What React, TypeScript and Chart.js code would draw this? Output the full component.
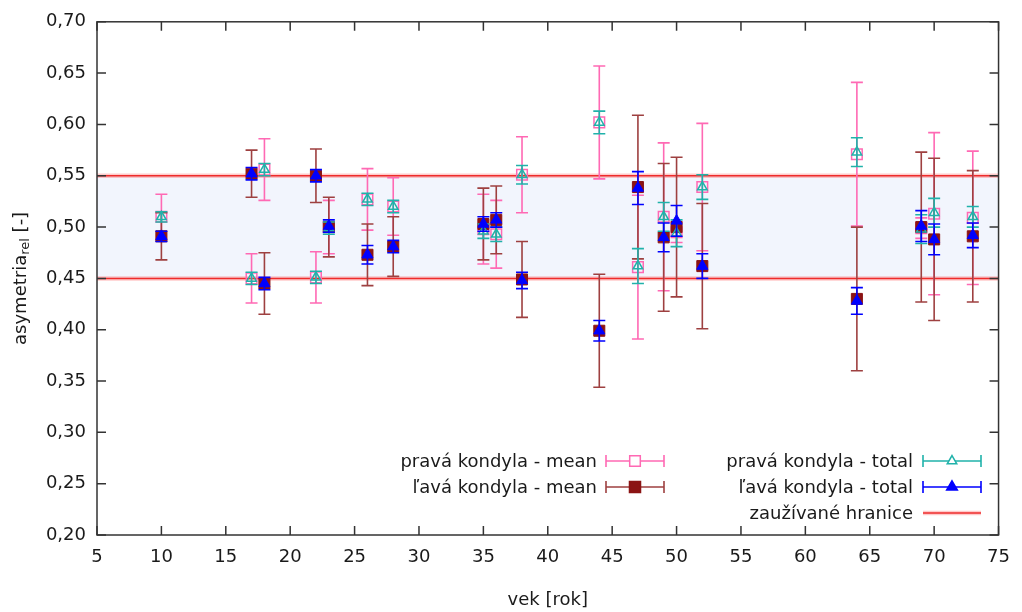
import React, { useEffect, useRef } from 'react';
import { Chart, registerables } from 'chart.js';
Chart.register(...registerables);

const ages = [10, 17, 18, 22, 23, 26, 28, 35, 36, 38, 44, 47, 49, 50, 52, 64, 69, 70, 73];
const pravaMean = [0.510, 0.450, 0.556, 0.451, 0.500, 0.527, 0.520, 0.498, 0.493, 0.551, 0.602, 0.461, 0.510, 0.495, 0.539, 0.571, 0.499, 0.513, 0.509];
const pravaMeanErr = [0.022, 0.024, 0.030, 0.025, 0.026, 0.030, 0.028, 0.034, 0.033, 0.037, 0.055, 0.070, 0.072, 0.010, 0.062, 0.070, 0.010, 0.079, 0.065];
const lavaMean = [0.491, 0.552, 0.445, 0.550, 0.500, 0.473, 0.481, 0.503, 0.507, 0.449, 0.399, 0.539, 0.490, 0.500, 0.462, 0.430, 0.500, 0.488, 0.491];
const lavaMeanErr = [0.023, 0.023, 0.030, 0.026, 0.029, 0.030, 0.029, 0.035, 0.033, 0.037, 0.055, 0.070, 0.072, 0.068, 0.061, 0.070, 0.073, 0.079, 0.064];
const pravaTotal = [0.510, 0.450, 0.556, 0.451, 0.499, 0.527, 0.520, 0.496, 0.493, 0.551, 0.602, 0.462, 0.510, 0.494, 0.539, 0.573, 0.498, 0.514, 0.510];
const pravaTotalErr = [0.005, 0.006, 0.006, 0.006, 0.006, 0.006, 0.006, 0.007, 0.007, 0.009, 0.011, 0.017, 0.014, 0.013, 0.012, 0.014, 0.014, 0.014, 0.010];
const lavaTotal = [0.491, 0.552, 0.445, 0.550, 0.501, 0.473, 0.481, 0.503, 0.507, 0.448, 0.399, 0.538, 0.490, 0.506, 0.462, 0.428, 0.501, 0.488, 0.492];
const lavaTotalErr = [0.005, 0.006, 0.006, 0.006, 0.006, 0.009, 0.006, 0.007, 0.007, 0.008, 0.010, 0.016, 0.014, 0.015, 0.012, 0.013, 0.015, 0.015, 0.012];
const limits = [0.45, 0.55];

const seriesLabels = [
  'pravá kondyla - mean',
  'ľavá kondyla - mean',
  'pravá kondyla - total',
  'ľavá kondyla - total',
  'zaužívané hranice',
];
const xTitle = 'vek [rok]';
const yTitleMain = 'asymetria';
const yTitleSub = 'rel';
const yTitleTail = ' [-]';

const FONT = 'DejaVu Sans';
const FS = 18;
const TEXT = '#1a1a1a';
const PINK = '#ff69b4';
const BROWN_BAR = '#9e4040';
const DARKRED = '#8b1414';
const TEAL = '#20b2aa';
const BLUE = '#0000ff';
const LIMIT = '#ee2b2b';

function drawMarker(ctx: CanvasRenderingContext2D, style: string, x: number, y: number, r: number, fill: string | null, stroke: string, lw: number) {
  ctx.beginPath();
  if (style === 'rect') {
    const s = Math.SQRT1_2 * r;
    ctx.rect(x - s, y - s, 2 * s, 2 * s);
  } else {
    for (let k = 0; k < 3; k++) {
      const a = (k * 2 * Math.PI) / 3;
      const px = x + Math.sin(a) * r;
      const py = y - Math.cos(a) * r;
      if (k === 0) ctx.moveTo(px, py);
      else ctx.lineTo(px, py);
    }
    ctx.closePath();
  }
  if (fill) {
    ctx.fillStyle = fill;
    ctx.fill();
  }
  ctx.lineWidth = lw;
  ctx.strokeStyle = stroke;
  ctx.stroke();
}

const bandPlugin = {
  id: 'band',
  beforeDatasetsDraw(chart: any) {
    const { ctx, chartArea: a, scales } = chart;
    const y = scales.y;
    const yTop = y.getPixelForValue(limits[1]);
    const yBot = y.getPixelForValue(limits[0]);
    ctx.save();
    ctx.fillStyle = '#f2f5fd';
    ctx.fillRect(a.left, yTop, a.right - a.left, yBot - yTop);
    for (const v of limits) {
      const py = y.getPixelForValue(v);
      ctx.beginPath();
      ctx.moveTo(a.left, py);
      ctx.lineTo(a.right, py);
      ctx.strokeStyle = 'rgba(255,80,80,0.3)';
      ctx.lineWidth = 4.5;
      ctx.stroke();
      ctx.beginPath();
      ctx.moveTo(a.left, py);
      ctx.lineTo(a.right, py);
      ctx.strokeStyle = LIMIT;
      ctx.lineWidth = 1.5;
      ctx.stroke();
    }
    ctx.restore();
  },
};

const errorPlugin = {
  id: 'errbars',
  beforeDatasetDraw(chart: any, args: any) {
    const ds = chart.data.datasets[args.index];
    if (!ds.errors) return;
    const meta = chart.getDatasetMeta(args.index);
    const y = chart.scales.y;
    const ctx = chart.ctx;
    ctx.save();
    ctx.strokeStyle = ds.barColor;
    ctx.lineWidth = 1.6;
    meta.data.forEach((pt: any, j: number) => {
      const v = ds.data[j].y;
      const e = ds.errors[j];
      const yt = y.getPixelForValue(v + e);
      const yb = y.getPixelForValue(v - e);
      const x = pt.x;
      ctx.beginPath();
      ctx.moveTo(x, yt);
      ctx.lineTo(x, yb);
      ctx.moveTo(x - 6, yt);
      ctx.lineTo(x + 6, yt);
      ctx.moveTo(x - 6, yb);
      ctx.lineTo(x + 6, yb);
      ctx.stroke();
    });
    ctx.restore();
  },
};

const framePlugin = {
  id: 'frame',
  afterDatasetsDraw(chart: any) {
    const { ctx, chartArea: a, scales } = chart;
    ctx.save();
    ctx.strokeStyle = '#333333';
    ctx.lineWidth = 1.5;
    ctx.strokeRect(a.left, a.top, a.right - a.left, a.bottom - a.top);
    ctx.beginPath();
    const L = 9;
    scales.x.ticks.forEach((t: any) => {
      const px = scales.x.getPixelForValue(t.value);
      ctx.moveTo(px, a.bottom);
      ctx.lineTo(px, a.bottom - L);
      ctx.moveTo(px, a.top);
      ctx.lineTo(px, a.top + L);
    });
    scales.y.ticks.forEach((t: any) => {
      const py = scales.y.getPixelForValue(t.value);
      ctx.moveTo(a.left, py);
      ctx.lineTo(a.left + L, py);
      ctx.moveTo(a.right, py);
      ctx.lineTo(a.right - L, py);
    });
    ctx.stroke();
    ctx.restore();
  },
};

const legendPlugin = {
  id: 'customLegend',
  afterDraw(chart: any) {
    const { ctx, chartArea: a } = chart;
    ctx.save();
    ctx.font = `${FS}px "${FONT}"`;
    ctx.fillStyle = TEXT;
    ctx.textAlign = 'right';
    ctx.textBaseline = 'middle';
    const entries = [
      { col: 0, row: 0, label: seriesLabels[0], color: PINK, style: 'rect', r: 7.5, fill: '#ffffff', stroke: PINK, bars: true },
      { col: 0, row: 1, label: seriesLabels[1], color: BROWN_BAR, style: 'rect', r: 7.8, fill: DARKRED, stroke: DARKRED, bars: true },
      { col: 1, row: 0, label: seriesLabels[2], color: TEAL, style: 'triangle', r: 5.5, fill: '#ffffff', stroke: TEAL, bars: true },
      { col: 1, row: 1, label: seriesLabels[3], color: BLUE, style: 'triangle', r: 6.2, fill: BLUE, stroke: BLUE, bars: true },
      { col: 1, row: 2, label: seriesLabels[4], color: LIMIT, style: '', r: 0, fill: null, stroke: LIMIT, bars: false },
    ];
    const textRight = [597, 913];
    const sampleL = [606, 923];
    const sampleR = [664, 981];
    const rowY = [461, 487, 513];
    for (const en of entries) {
      const y = rowY[en.row];
      ctx.fillStyle = TEXT;
      ctx.fillText(en.label, textRight[en.col], y + 1);
      const x0 = sampleL[en.col];
      const x1 = sampleR[en.col];
      if (en.bars) {
        ctx.beginPath();
        ctx.strokeStyle = en.color;
        ctx.lineWidth = 1.6;
        ctx.moveTo(x0, y);
        ctx.lineTo(x1, y);
        ctx.moveTo(x0, y - 6);
        ctx.lineTo(x0, y + 6);
        ctx.moveTo(x1, y - 6);
        ctx.lineTo(x1, y + 6);
        ctx.stroke();
        drawMarker(ctx, en.style, (x0 + x1) / 2, y, en.r, en.fill, en.stroke, 1.5);
      } else {
        ctx.beginPath();
        ctx.moveTo(x0, y);
        ctx.lineTo(x1, y);
        ctx.strokeStyle = 'rgba(255,80,80,0.3)';
        ctx.lineWidth = 4.5;
        ctx.stroke();
        ctx.beginPath();
        ctx.moveTo(x0, y);
        ctx.lineTo(x1, y);
        ctx.strokeStyle = LIMIT;
        ctx.lineWidth = 1.5;
        ctx.stroke();
      }
    }
    // axis titles
    ctx.fillStyle = TEXT;
    ctx.textAlign = 'center';
    ctx.textBaseline = 'middle';
    ctx.font = `${FS}px "${FONT}"`;
    ctx.fillText(xTitle, (a.left + a.right) / 2, 600);

    ctx.save();
    ctx.translate(21, (a.top + a.bottom) / 2);
    ctx.rotate(-Math.PI / 2);
    ctx.textAlign = 'left';
    ctx.textBaseline = 'middle';
    ctx.font = `${FS}px "${FONT}"`;
    const w1 = ctx.measureText(yTitleMain).width;
    const w3 = ctx.measureText(yTitleTail).width;
    ctx.font = `13px "${FONT}"`;
    const w2 = ctx.measureText(yTitleSub).width;
    const total = w1 + w2 + w3;
    let cx = -total / 2;
    ctx.font = `${FS}px "${FONT}"`;
    ctx.fillText(yTitleMain, cx, 0);
    cx += w1;
    ctx.font = `13px "${FONT}"`;
    ctx.fillText(yTitleSub, cx, 5);
    cx += w2;
    ctx.font = `${FS}px "${FONT}"`;
    ctx.fillText(yTitleTail, cx, 0);
    ctx.restore();
    ctx.restore();
  },
};

function pts(vals: number[]) {
  return ages.map((a, i) => ({ x: a, y: vals[i] }));
}

export default function App() {
  const ref = useRef<HTMLCanvasElement | null>(null);
  useEffect(() => {
    if (!ref.current) return;
    const chart = new Chart(ref.current, {
      type: 'scatter',
      data: {
        datasets: [
          {
            label: seriesLabels[0],
            order: 3,
            data: pts(pravaMean),
            errors: pravaMeanErr,
            barColor: PINK,
            pointStyle: 'rect',
            pointRadius: 7.5,
            pointBackgroundColor: 'rgba(0,0,0,0)',
            pointBorderColor: PINK,
            pointBorderWidth: 1.5,
          } as any,
          {
            label: seriesLabels[1],
            order: 2,
            data: pts(lavaMean),
            errors: lavaMeanErr,
            barColor: BROWN_BAR,
            pointStyle: 'rect',
            pointRadius: 7.8,
            pointBackgroundColor: DARKRED,
            pointBorderColor: DARKRED,
            pointBorderWidth: 1,
          } as any,
          {
            label: seriesLabels[2],
            order: 1,
            data: pts(pravaTotal),
            errors: pravaTotalErr,
            barColor: TEAL,
            pointStyle: 'triangle',
            pointRadius: 5.5,
            pointBackgroundColor: 'rgba(0,0,0,0)',
            pointBorderColor: TEAL,
            pointBorderWidth: 1.5,
          } as any,
          {
            label: seriesLabels[3],
            order: 0,
            data: pts(lavaTotal),
            errors: lavaTotalErr,
            barColor: BLUE,
            pointStyle: 'triangle',
            pointRadius: 6.4,
            pointBackgroundColor: BLUE,
            pointBorderColor: BLUE,
            pointBorderWidth: 1,
          } as any,
        ],
      },
      options: {
        responsive: false,
        animation: false,
        devicePixelRatio: 1,
        layout: { padding: { top: 20, right: 19, bottom: 0, left: 0 } },
        plugins: { legend: { display: false }, tooltip: { enabled: false } },
        scales: {
          x: {
            type: 'linear',
            min: 5,
            max: 75,
            grid: { display: false, drawTicks: false },
            border: { display: false },
            afterFit: (s: any) => {
              s.height = 77;
            },
            ticks: {
              stepSize: 5,
              autoSkip: false,
              maxRotation: 0,
              padding: 12,
              color: TEXT,
              font: { family: FONT, size: FS },
            },
          },
          y: {
            type: 'linear',
            min: 0.2,
            max: 0.7,
            grid: { display: false, drawTicks: false },
            border: { display: false },
            afterFit: (s: any) => {
              s.width = 97;
            },
            ticks: {
              stepSize: 0.05,
              autoSkip: false,
              padding: 11,
              color: TEXT,
              font: { family: FONT, size: FS },
              callback: (v: any) => Number(v).toFixed(2).replace('.', ','),
            },
          },
        },
      } as any,
      plugins: [bandPlugin, errorPlugin, framePlugin, legendPlugin],
    });
    return () => chart.destroy();
  }, []);
  return (
    <div style={{ position: 'absolute', left: 0, top: 0, width: 1022, height: 612, background: '#ffffff' }}>
      <canvas ref={ref} width={1022} height={612} style={{ display: 'block' }} />
    </div>
  );
}
